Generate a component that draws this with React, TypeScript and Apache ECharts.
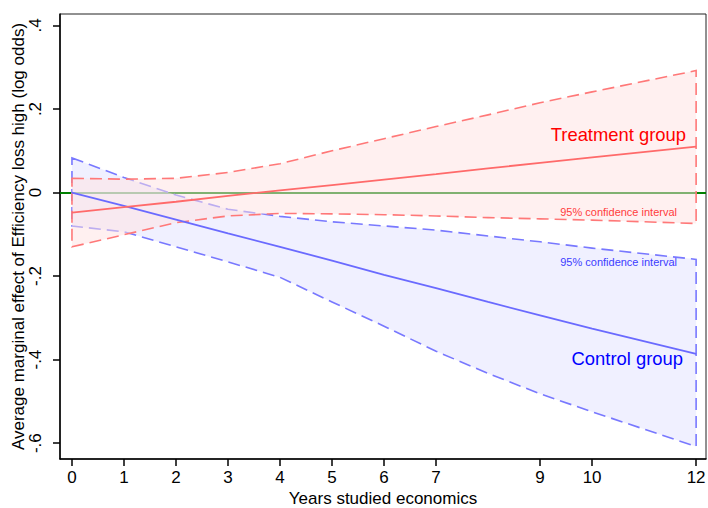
import React, { useEffect, useRef } from "react";
import * as echarts from "echarts";

const xs = [0, 1, 2, 3, 4, 5, 6, 7, 8, 9, 10, 12];
const xTicks = [0, 1, 2, 3, 4, 5, 6, 7, 9, 10, 12];
const yTicks = [-0.6, -0.4, -0.2, 0, 0.2, 0.4];

const treatEst = [-0.048, -0.035, -0.022, -0.008, 0.005, 0.018, 0.031, 0.044, 0.058, 0.071, 0.084, 0.110];
const treatUpper = [0.034, 0.032, 0.034, 0.048, 0.069, 0.100, 0.129, 0.158, 0.186, 0.215, 0.241, 0.292];
const treatLower = [-0.130, -0.101, -0.072, -0.056, -0.050, -0.051, -0.053, -0.056, -0.060, -0.063, -0.066, -0.074];

const ctrlEst = [0, -0.032, -0.065, -0.098, -0.130, -0.163, -0.197, -0.229, -0.262, -0.294, -0.326, -0.386];
const ctrlUpper = [0.083, 0.036, -0.006, -0.040, -0.057, -0.070, -0.080, -0.090, -0.104, -0.118, -0.133, -0.160];
const ctrlLower = [-0.080, -0.094, -0.130, -0.166, -0.203, -0.262, -0.320, -0.380, -0.433, -0.482, -0.525, -0.608];

const FONT = '"Liberation Sans", Arial, Helvetica, sans-serif';

function bandSeries(upper: number[], lower: number[], fill: string, stroke: string, z: number) {
  return {
    type: "custom",
    z,
    silent: true,
    clip: false,
    data: [[0, 0]],
    renderItem: (params: any, api: any) => {
      const pts: number[][] = [];
      for (let i = 0; i < xs.length; i++) pts.push(api.coord([xs[i], upper[i]]));
      for (let i = xs.length - 1; i >= 0; i--) pts.push(api.coord([xs[i], lower[i]]));
      return {
        type: "polygon",
        shape: { points: pts },
        style: { fill, stroke, lineWidth: 1.6, lineDash: [12, 6] },
      };
    },
  };
}

function fmtY(v: number) {
  if (Math.abs(v) < 1e-9) return "0";
  const s = String(Math.round(Math.abs(v) * 10) / 10).replace(/^0/, "");
  return v < 0 ? "-" + s : s;
}

export default function App() {
  const ref = useRef<HTMLDivElement>(null);
  useEffect(() => {
    const chart = echarts.init(ref.current!, null, { renderer: "svg" });
    chart.setOption({
      animation: false,
      backgroundColor: "#ffffff",
      grid: {
        left: 60, top: 14, right: 2, bottom: 49,
        outerBoundsMode: "none", containLabel: false,
        show: true, borderColor: "#222", borderWidth: 1, backgroundColor: "transparent",
      },
      xAxis: {
        type: "value",
        min: -0.23,
        max: 12.19,
        name: "Years studied economics",
        nameLocation: "middle",
        nameGap: 31,
        nameMoveOverlap: false,
        nameTextStyle: { fontFamily: FONT, fontSize: 17, color: "#000" },
        splitLine: { show: false },
        axisLine: { show: true, onZero: false, lineStyle: { color: "#000", width: 1.5 } },
        axisTick: { show: true, length: 7, customValues: xTicks, lineStyle: { color: "#000", width: 1.5 } },
        axisLabel: { customValues: xTicks, margin: 10, fontFamily: FONT, fontSize: 17, color: "#000" },
      },
      yAxis: {
        type: "value",
        min: -0.638,
        max: 0.4275,
        name: "Average marginal effect of Efficiency loss high (log odds)",
        nameLocation: "middle",
        nameGap: 33,
        nameMoveOverlap: false,
        nameTextStyle: { fontFamily: FONT, fontSize: 17, color: "#000" },
        splitLine: { show: false },
        axisLine: { show: true, onZero: false, lineStyle: { color: "#000", width: 1.5 } },
        axisTick: { show: true, length: 7, customValues: yTicks, lineStyle: { color: "#000", width: 1.5 } },
        axisLabel: { customValues: yTicks, rotate: 90, margin: 16, fontFamily: FONT, fontSize: 17, color: "#000", formatter: fmtY },
      },
      series: [
        {
          type: "line",
          z: 1,
          data: [],
          markLine: {
            z: 1,
            silent: true,
            symbol: "none",
            label: { show: false },
            lineStyle: { color: "#008000", width: 2, type: "solid" },
            data: [{ yAxis: 0 }],
          },
        },
        bandSeries(ctrlUpper, ctrlLower, "rgba(225,225,255,0.5)", "#7878ff", 2),
        bandSeries(treatUpper, treatLower, "rgba(255,225,225,0.5)", "#ff7878", 3),
        {
          type: "line",
          z: 4,
          symbol: "none",
          silent: true,
          data: xs.map((x, i) => [x, ctrlEst[i]]),
          lineStyle: { color: "#6a6aff", width: 1.8 },
        },
        {
          type: "line",
          z: 5,
          symbol: "none",
          silent: true,
          data: xs.map((x, i) => [x, treatEst[i]]),
          lineStyle: { color: "#ff6a6a", width: 1.8 },
        },
      ],
      graphic: [
        { type: "text", z: 10, right: 708 - 686, top: 125, style: { text: "Treatment group", fontFamily: FONT, fontSize: 18.4, fill: "#ff0000" } },
        { type: "text", z: 10, right: 708 - 683, top: 349, style: { text: "Control group", fontFamily: FONT, fontSize: 18.4, fill: "#0000ff" } },
        { type: "text", z: 10, right: 708 - 677, top: 206, style: { text: "95% confidence interval", fontFamily: FONT, fontSize: 11, fill: "#ff3c3c" } },
        { type: "text", z: 10, right: 708 - 677, top: 256, style: { text: "95% confidence interval", fontFamily: FONT, fontSize: 11, fill: "#3c3cff" } },
      ],
    });
    return () => chart.dispose();
  }, []);
  return <div ref={ref} style={{ position: "fixed", left: 0, top: 0, width: 708, height: 508 }} />;
}
